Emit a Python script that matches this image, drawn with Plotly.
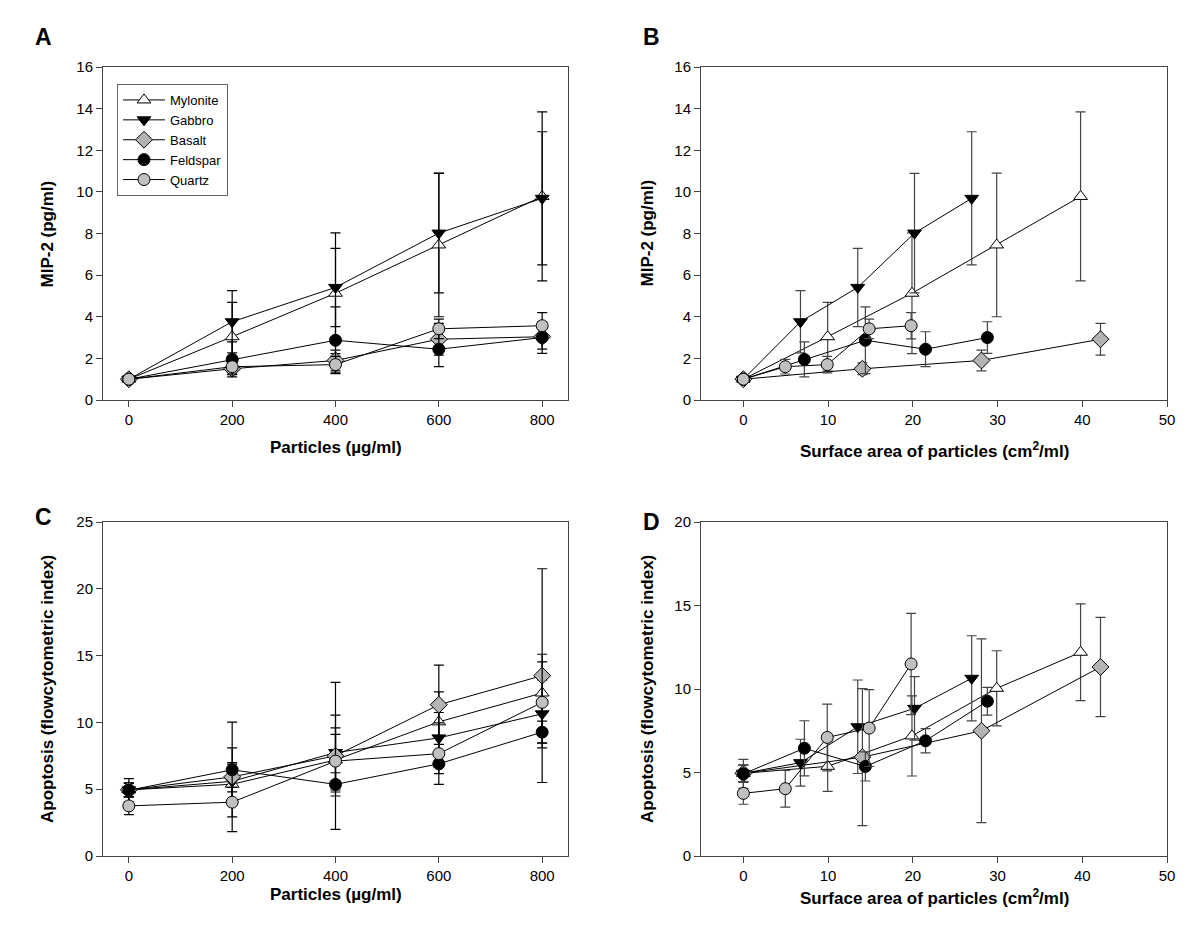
import plotly.graph_objects as go

# page body keeps its default 8px margin, so the figure is sized to fit inside it
OFF = 8
W, H = 1200 - 2 * OFF, 937 - 2 * OFF

# ---------------- data ----------------
minerals = ["Mylonite", "Gabbro", "Basalt", "Feldspar", "Quartz"]
particles = [0, 200, 400, 600, 800]  # µg/ml

# surface area of particles (cm2/ml) for each particle concentration
sa_mylonite = [0, 9.95, 19.9, 29.9, 39.8]
sa_gabbro = [0, 6.74, 13.5, 20.2, 26.95]
sa_basalt = [0, 14.05, 28.1, 42.15, 56.2]
sa_feldspar = [0, 7.2, 14.4, 21.5, 28.8]
sa_quartz = [0, 4.95, 9.9, 14.85, 19.8]

# MIP-2 (pg/ml) mean and error
mip_mylonite = [1.0, 3.04, 5.13, 7.45, 9.78]
mip_mylonite_err = [0, 1.65, 2.9, 3.45, 4.06]
mip_gabbro = [1.0, 3.76, 5.41, 8.02, 9.69]
mip_gabbro_err = [0, 1.5, 1.88, 2.87, 3.2]
mip_basalt = [1.0, 1.5, 1.9, 2.92, 3.04]
mip_basalt_err = [0, 0.28, 0.5, 0.76, 0.6]
mip_feldspar = [1.0, 1.95, 2.87, 2.44, 3.0]
mip_feldspar_err = [0, 0.84, 1.6, 0.84, 0.76]
mip_quartz = [1.0, 1.6, 1.7, 3.42, 3.57]
mip_quartz_err = [0, 0.35, 0.4, 0.47, 0.63]

# Apoptosis (flowcytometric index) mean and error
apo_mylonite = [4.95, 5.37, 7.19, 10.04, 12.2]
apo_mylonite_err = [0.5, 1.5, 2.4, 2.25, 2.9]
apo_gabbro = [4.95, 5.59, 7.74, 8.84, 10.64]
apo_gabbro_err = [0.5, 1.4, 2.8, 1.9, 2.55]
apo_basalt = [4.95, 5.92, 7.5, 11.32, 13.5]
apo_basalt_err = [0.5, 4.1, 5.5, 2.97, 8.0]
apo_feldspar = [4.92, 6.45, 5.36, 6.9, 9.27]
apo_feldspar_err = [0.87, 1.65, 0.87, 0.73, 0.83]
apo_quartz = [3.75, 4.03, 7.1, 7.66, 11.5]
apo_quartz_err = [0.65, 1.1, 2.0, 2.3, 3.03]

x_ticks_particles = [0, 200, 400, 600, 800]
x_ticks_sa = [0, 10, 20, 30, 40, 50]
y_ticks_mip = [0, 2, 4, 6, 8, 10, 12, 14, 16]
y_ticks_apo_c = [0, 5, 10, 15, 20, 25]
y_ticks_apo_d = [0, 5, 10, 15, 20]

# ---------------- styles ----------------
styles = {
    "Mylonite": dict(symbol="triangle-up", color="white", size=12),
    "Gabbro": dict(symbol="triangle-down", color="black", size=12),
    "Basalt": dict(symbol="diamond", color="#b3b3b3", size=13),
    "Feldspar": dict(symbol="circle", color="black", size=12),
    "Quartz": dict(symbol="circle", color="#c0c0c0", size=12),
}

sa = dict(Mylonite=sa_mylonite, Gabbro=sa_gabbro, Basalt=sa_basalt,
          Feldspar=sa_feldspar, Quartz=sa_quartz)
mip = dict(Mylonite=(mip_mylonite, mip_mylonite_err), Gabbro=(mip_gabbro, mip_gabbro_err),
           Basalt=(mip_basalt, mip_basalt_err), Feldspar=(mip_feldspar, mip_feldspar_err),
           Quartz=(mip_quartz, mip_quartz_err))
apo = dict(Mylonite=(apo_mylonite, apo_mylonite_err), Gabbro=(apo_gabbro, apo_gabbro_err),
           Basalt=(apo_basalt, apo_basalt_err), Feldspar=(apo_feldspar, apo_feldspar_err),
           Quartz=(apo_quartz, apo_quartz_err))

fig = go.Figure()

SA_MAX = 50


def add_series(name, xs, ys, errs, xa, ya, showlegend, errcolor):
    st = styles[name]
    pts = [(x, y, e) for x, y, e in zip(xs, ys, errs) if x <= SA_MAX or xa in ("x", "x3")]
    fig.add_trace(go.Scatter(
        x=[p[0] for p in pts], y=[p[1] for p in pts],
        mode="lines+markers", name=name, showlegend=showlegend,
        line=dict(color="black", width=1),
        marker=dict(symbol=st["symbol"], color=st["color"], size=st["size"],
                    line=dict(color="black", width=1)),
        error_y=dict(type="data", array=[p[2] for p in pts], visible=True,
                     color=errcolor, thickness=1.2, width=5),
        xaxis=xa, yaxis=ya, cliponaxis=False,
    ))


for name in minerals:
    add_series(name, particles, mip[name][0], mip[name][1], "x", "y", True, "black")
for name in minerals:
    add_series(name, sa[name], mip[name][0], mip[name][1], "x2", "y2", False, "#444")
for name in minerals:
    add_series(name, particles, apo[name][0], apo[name][1], "x3", "y3", False, "black")
for name in minerals:
    add_series(name, sa[name], apo[name][0], apo[name][1], "x4", "y4", False, "#444")


def px(x):
    return (x - OFF) / W


def py(y):
    return 1 - (y - OFF) / H


def xd(a, b):
    return [px(a), px(b)]


def yd(top, bottom):
    return [py(bottom), py(top)]


font_tick = dict(family="Liberation Sans, Arial, sans-serif", size=15, color="black")
axis_common = dict(showline=True, linecolor="#444", linewidth=1, mirror=True,
                   ticks="outside", ticklen=6, tickcolor="#444", tickwidth=1,
                   showgrid=False, zeroline=False, tickfont=font_tick, automargin=False)

LA, RA = 103, 568
LB, RB = 701, 1167
TT, BT = 67, 400
TB, BB = 522, 856

fig.update_layout(
    width=W, height=H, margin=dict(l=0, r=0, t=0, b=0, pad=0, autoexpand=False),
    plot_bgcolor="white", paper_bgcolor="white",
    xaxis=dict(domain=xd(LA, RA), range=[-50, 850], tickvals=x_ticks_particles, anchor="y", **axis_common),
    yaxis=dict(domain=yd(TT, BT), range=[0, 16], tickvals=y_ticks_mip, anchor="x", **axis_common),
    xaxis2=dict(domain=xd(LB, RB), range=[-5, 50], tickvals=x_ticks_sa, anchor="y2", **axis_common),
    yaxis2=dict(domain=yd(TT, BT), range=[0, 16], tickvals=y_ticks_mip, anchor="x2", **axis_common),
    xaxis3=dict(domain=xd(LA, RA), range=[-50, 850], tickvals=x_ticks_particles, anchor="y3", **axis_common),
    yaxis3=dict(domain=yd(TB, BB), range=[0, 25], tickvals=y_ticks_apo_c, anchor="x3", **axis_common),
    xaxis4=dict(domain=xd(LB, RB), range=[-5, 50], tickvals=x_ticks_sa, anchor="y4", **axis_common),
    yaxis4=dict(domain=yd(TB, BB), range=[0, 20], tickvals=y_ticks_apo_d, anchor="x4", **axis_common),
    showlegend=True,
    legend=dict(x=px(117), y=py(84), xanchor="left", yanchor="top",
                bordercolor="#666", borderwidth=1, bgcolor="white",
                font=dict(family="Liberation Sans, Arial, sans-serif", size=13, color="black"),
                tracegroupgap=0, itemwidth=42),
)

tfont = dict(family="Liberation Sans, Arial, sans-serif", size=17, color="black")
lfont = dict(family="Liberation Sans, Arial, sans-serif", size=23, color="black")


def ann(text, x, y, font, angle=0):
    fig.add_annotation(text=text, x=px(x), y=py(y), xref="paper", yref="paper",
                       showarrow=False, xanchor="center", yanchor="middle",
                       font=font, textangle=angle)


ann("<b>A</b>", 43, 37, lfont)
ann("<b>B</b>", 651, 37, lfont)
ann("<b>C</b>", 43, 517, lfont)
ann("<b>D</b>", 651, 522, lfont)

ann("<b>Particles (µg/ml)</b>", (LA + RA) / 2, 447, tfont)
ann("<b>Surface area of particles (cm<sup>2</sup>/ml)</b>", (LB + RB) / 2, 450, tfont)
ann("<b>Particles (µg/ml)</b>", (LA + RA) / 2, 894, tfont)
ann("<b>Surface area of particles (cm<sup>2</sup>/ml)</b>", (LB + RB) / 2, 897, tfont)

ann("<b>MIP-2 (pg/ml)</b>", 47, (TT + BT) / 2, tfont, -90)
ann("<b>MIP-2 (pg/ml)</b>", 647, (TT + BT) / 2, tfont, -90)
ann("<b>Apoptosis (flowcytometric index)</b>", 47, (TB + BB) / 2, tfont, -90)
ann("<b>Apoptosis (flowcytometric index)</b>", 647, (TB + BB) / 2, tfont, -90)

fig.write_html("out.html")
